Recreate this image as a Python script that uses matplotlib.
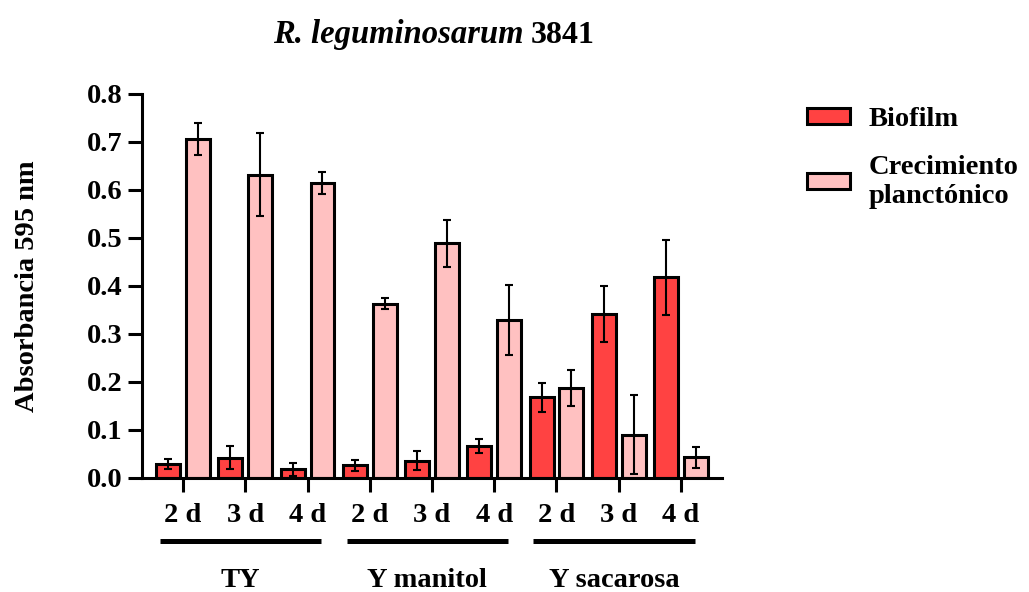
import numpy as np
import matplotlib
matplotlib.use("Agg")
import matplotlib.pyplot as plt
import matplotlib.transforms as mtransforms

plt.rcParams['font.family'] = ['Liberation Serif', 'DejaVu Serif']
plt.rcParams['font.weight'] = 'bold'

# 培地ごとの日数とグループ名
days = ["2 d", "3 d", "4 d"] * 3
groups = ["TY", "Y manitol", "Y sacarosa"]

# 吸光度 (595 nm) の平均値と誤差
biofilm = [0.029, 0.042, 0.018, 0.026, 0.036, 0.066, 0.168, 0.341, 0.418]
biofilm_err = [0.011, 0.024, 0.013, 0.012, 0.020, 0.015, 0.030, 0.058, 0.078]
planct = [0.706, 0.632, 0.614, 0.363, 0.489, 0.329, 0.187, 0.090, 0.043]
planct_err = [0.033, 0.086, 0.023, 0.012, 0.049, 0.073, 0.038, 0.082, 0.022]

col_bio = "#ff4242"
col_pla = "#ffc1c1"

fig = plt.figure(figsize=(10.29, 5.92), dpi=100)
ax = fig.add_axes([0.138, 0.1926, 0.5637, 0.6487])

x = np.arange(len(days))
w = 0.385
off = 0.24
err_kw = dict(ecolor="black", elinewidth=1.5, capsize=3, capthick=1.5)
ax.bar(x - off, biofilm, w, yerr=biofilm_err, color=col_bio, edgecolor="black",
       linewidth=2.2, error_kw=err_kw, label="Biofilm", zorder=2)
ax.bar(x + off, planct, w, yerr=planct_err, color=col_pla, edgecolor="black",
       linewidth=2.2, error_kw=err_kw, label="Crecimiento\nplanctónico", zorder=2)

ax.set_xlim(-0.66, len(days) - 1 + 0.66)
ax.set_ylim(0, 0.8)
ax.set_yticks(np.arange(0, 0.81, 0.1))
ax.set_yticklabels([f"{v:.1f}" for v in np.arange(0, 0.81, 0.1)], fontsize=20.5)
ax.set_xticks(x)
ax.set_xticklabels(days, fontsize=20.5)
ax.tick_params(axis="x", length=10, width=2.2, pad=8)
ax.tick_params(axis="y", length=10, width=2.2, pad=4)

for side in ["top", "right"]:
    ax.spines[side].set_visible(False)
for side in ["left", "bottom"]:
    ax.spines[side].set_linewidth(2.2)

ax.set_ylabel("Absorbancia 595 nm", fontsize=20.5, fontweight="bold")
ax.yaxis.set_label_coords(-0.175, 0.5)

# グループ下の横線とラベル
trans = mtransforms.blended_transform_factory(ax.transData, ax.transAxes)
for i, g in enumerate(groups):
    x0 = 3 * i - 0.37
    x1 = 3 * i + 2 + 0.22
    ax.plot([x0, x1], [-0.164, -0.164], color="black", lw=3.6,
            transform=trans, clip_on=False, solid_capstyle="butt")
    ax.text((x0 + x1) / 2, -0.266, g, transform=trans, ha="center", va="center",
            fontsize=20.5, fontweight="bold")

# タイトル (学名はイタリック)
fig.text(524 / 1029, 1 - 43 / 592, "R. leguminosarum", ha="right", va="baseline",
         fontsize=23.5, fontweight="bold", fontstyle="italic")
fig.text(531 / 1029, 1 - 43 / 592, "3841", ha="left", va="baseline",
         fontsize=23, fontweight="bold")

fig.legend(loc="upper left", bbox_to_anchor=(807 / 1029, 1 - 107 / 592),
           frameon=False, fontsize=20.5, handlelength=1.5, handleheight=0.45,
           handletextpad=0.65, labelspacing=0.8, borderpad=0, borderaxespad=0)

fig.savefig("out.png", dpi=100)
